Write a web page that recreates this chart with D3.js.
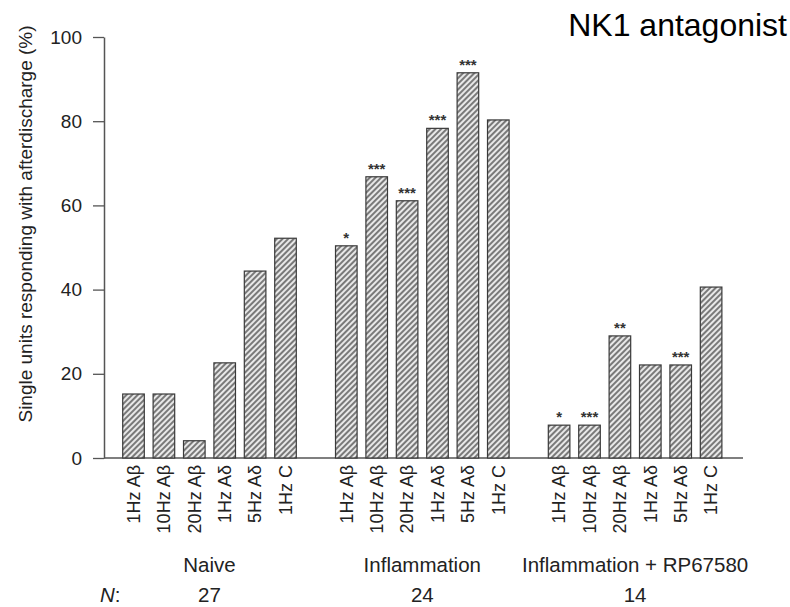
<!DOCTYPE html>
<html>
<head>
<meta charset="utf-8">
<script src="https://cdn.jsdelivr.net/npm/d3@7"></script>
<style>
  html, body { margin: 0; padding: 0; background: #fff; }
  svg { display: block; font-family: Arial, "Liberation Sans", sans-serif; }
</style>
</head>
<body>
<div id="chart"></div>
<script>
// ---------- DATA ----------
const GROUPS = ["Naive", "Inflammation", "Inflammation + RP67580"];
const N_VALUES = [27, 24, 14];
const STIMULI = ["1Hz A\u03b2", "10Hz A\u03b2", "20Hz A\u03b2", "1Hz A\u03b4", "5Hz A\u03b4", "1Hz C"];

// % of single units responding with afterdischarge
const NAIVE = [15.2, 15.2, 4.1, 22.6, 44.4, 52.2];
const INFLAMMATION = [50.4, 66.8, 61.1, 78.3, 91.5, 80.3];
const INFLAMMATION_RP = [7.8, 7.8, 29.0, 22.1, 22.1, 40.6];

// significance markers
const SIG_NAIVE = ["", "", "", "", "", ""];
const SIG_INFLAMMATION = ["*", "***", "***", "***", "***", ""];
const SIG_INFLAMMATION_RP = ["*", "***", "**", "", "***", ""];

const Y_TICKS = [0, 20, 40, 60, 80, 100];

// ---------- SCAFFOLD ----------
const width = 790, height = 607;

const svg = d3.select("#chart").append("svg")
  .attr("width", width)
  .attr("height", height);

// hatch fill for the bars
const pattern = svg.append("defs").append("pattern")
  .attr("id", "hatch")
  .attr("patternUnits", "userSpaceOnUse")
  .attr("width", 4)
  .attr("height", 4)
  .attr("patternTransform", "rotate(45)");
pattern.append("rect").attr("width", 4).attr("height", 4).attr("fill", "#e8e8e8");
pattern.append("line")
  .attr("x1", 1).attr("y1", 0).attr("x2", 1).attr("y2", 4)
  .attr("stroke", "#4a4a4a").attr("stroke-width", 1.4);

const rows = GROUPS.map((g, i) => ({
  group: g,
  n: N_VALUES[i],
  values: [NAIVE, INFLAMMATION, INFLAMMATION_RP][i],
  sig: [SIG_NAIVE, SIG_INFLAMMATION, SIG_INFLAMMATION_RP][i]
}));

// ---------- SCALES ----------
const y = d3.scaleLinear().domain([0, 100]).range([458, 37]);

const x0 = d3.scaleBand()
  .domain(GROUPS)
  .range([118.3, 726.3])
  .paddingInner(1 / 7);

const x1 = d3.scaleBand()
  .domain(STIMULI)
  .range([0, x0.bandwidth()])
  .paddingInner(0.29)
  .paddingOuter(0.145);

// ---------- AXES ----------
const yAxis = svg.append("g")
  .attr("transform", "translate(104,0)")
  .call(d3.axisLeft(y).tickValues(Y_TICKS).tickSize(11).tickSizeOuter(0).tickPadding(11));
yAxis.select(".domain").attr("stroke", "#555").attr("stroke-width", 1.5);
yAxis.selectAll(".tick line").attr("stroke", "#555").attr("stroke-width", 1.3);
yAxis.selectAll(".tick text")
  .attr("font-size", 19)
  .attr("fill", "#222")
  .attr("font-family", "Arial, 'Liberation Sans', sans-serif");

// baseline
svg.append("line")
  .attr("x1", 104).attr("x2", 743)
  .attr("y1", y(0)).attr("y2", y(0))
  .attr("stroke", "#555").attr("stroke-width", 1.5);

svg.append("text")
  .attr("transform", "translate(32,224) rotate(-90)")
  .attr("text-anchor", "middle")
  .attr("font-size", 19)
  .attr("fill", "#222")
  .text("Single units responding with afterdischarge (%)");

// ---------- BARS ----------
const groupG = svg.selectAll(".group")
  .data(rows)
  .join("g")
  .attr("class", "group")
  .attr("transform", d => `translate(${x0(d.group)},0)`);

groupG.selectAll("rect")
  .data(d => d.values.map((v, i) => ({ stim: STIMULI[i], v })))
  .join("rect")
  .attr("x", d => x1(d.stim))
  .attr("width", x1.bandwidth())
  .attr("y", d => y(d.v))
  .attr("height", d => y(0) - y(d.v))
  .attr("fill", "url(#hatch)")
  .attr("stroke", "#3a3a3a")
  .attr("stroke-width", 1.2);

groupG.selectAll(".sig")
  .data(d => d.sig.map((s, i) => ({ stim: STIMULI[i], s, v: d.values[i] })))
  .join("text")
  .attr("class", "sig")
  .attr("x", d => x1(d.stim) + x1.bandwidth() / 2)
  .attr("y", d => y(d.v) - 3)
  .attr("text-anchor", "middle")
  .attr("font-size", 15)
  .attr("font-weight", "bold")
  .attr("fill", "#333")
  .text(d => d.s);

groupG.selectAll(".stim-label")
  .data(STIMULI)
  .join("text")
  .attr("class", "stim-label")
  .attr("transform", d => `translate(${x1(d) + x1.bandwidth() / 2},465) rotate(-90)`)
  .attr("text-anchor", "end")
  .attr("dy", "0.35em")
  .attr("font-size", 18)
  .attr("fill", "#222")
  .text(d => d);

// group names and N
groupG.append("text")
  .attr("x", x0.bandwidth() / 2)
  .attr("y", 572)
  .attr("text-anchor", "middle")
  .attr("font-size", 20.5)
  .attr("fill", "#222")
  .text(d => d.group);

groupG.append("text")
  .attr("x", x0.bandwidth() / 2)
  .attr("y", 602)
  .attr("text-anchor", "middle")
  .attr("font-size", 20.5)
  .attr("fill", "#222")
  .text(d => d.n);

const nLabel = svg.append("text")
  .attr("x", 100)
  .attr("y", 602)
  .attr("font-size", 20.5)
  .attr("fill", "#222");
nLabel.append("tspan").attr("font-style", "italic").text("N");
nLabel.append("tspan").text(":");

// title
svg.append("text")
  .attr("x", 787)
  .attr("y", 36)
  .attr("text-anchor", "end")
  .attr("font-size", 32)
  .attr("fill", "#000")
  .text("NK1 antagonist");
</script>
</body>
</html>
